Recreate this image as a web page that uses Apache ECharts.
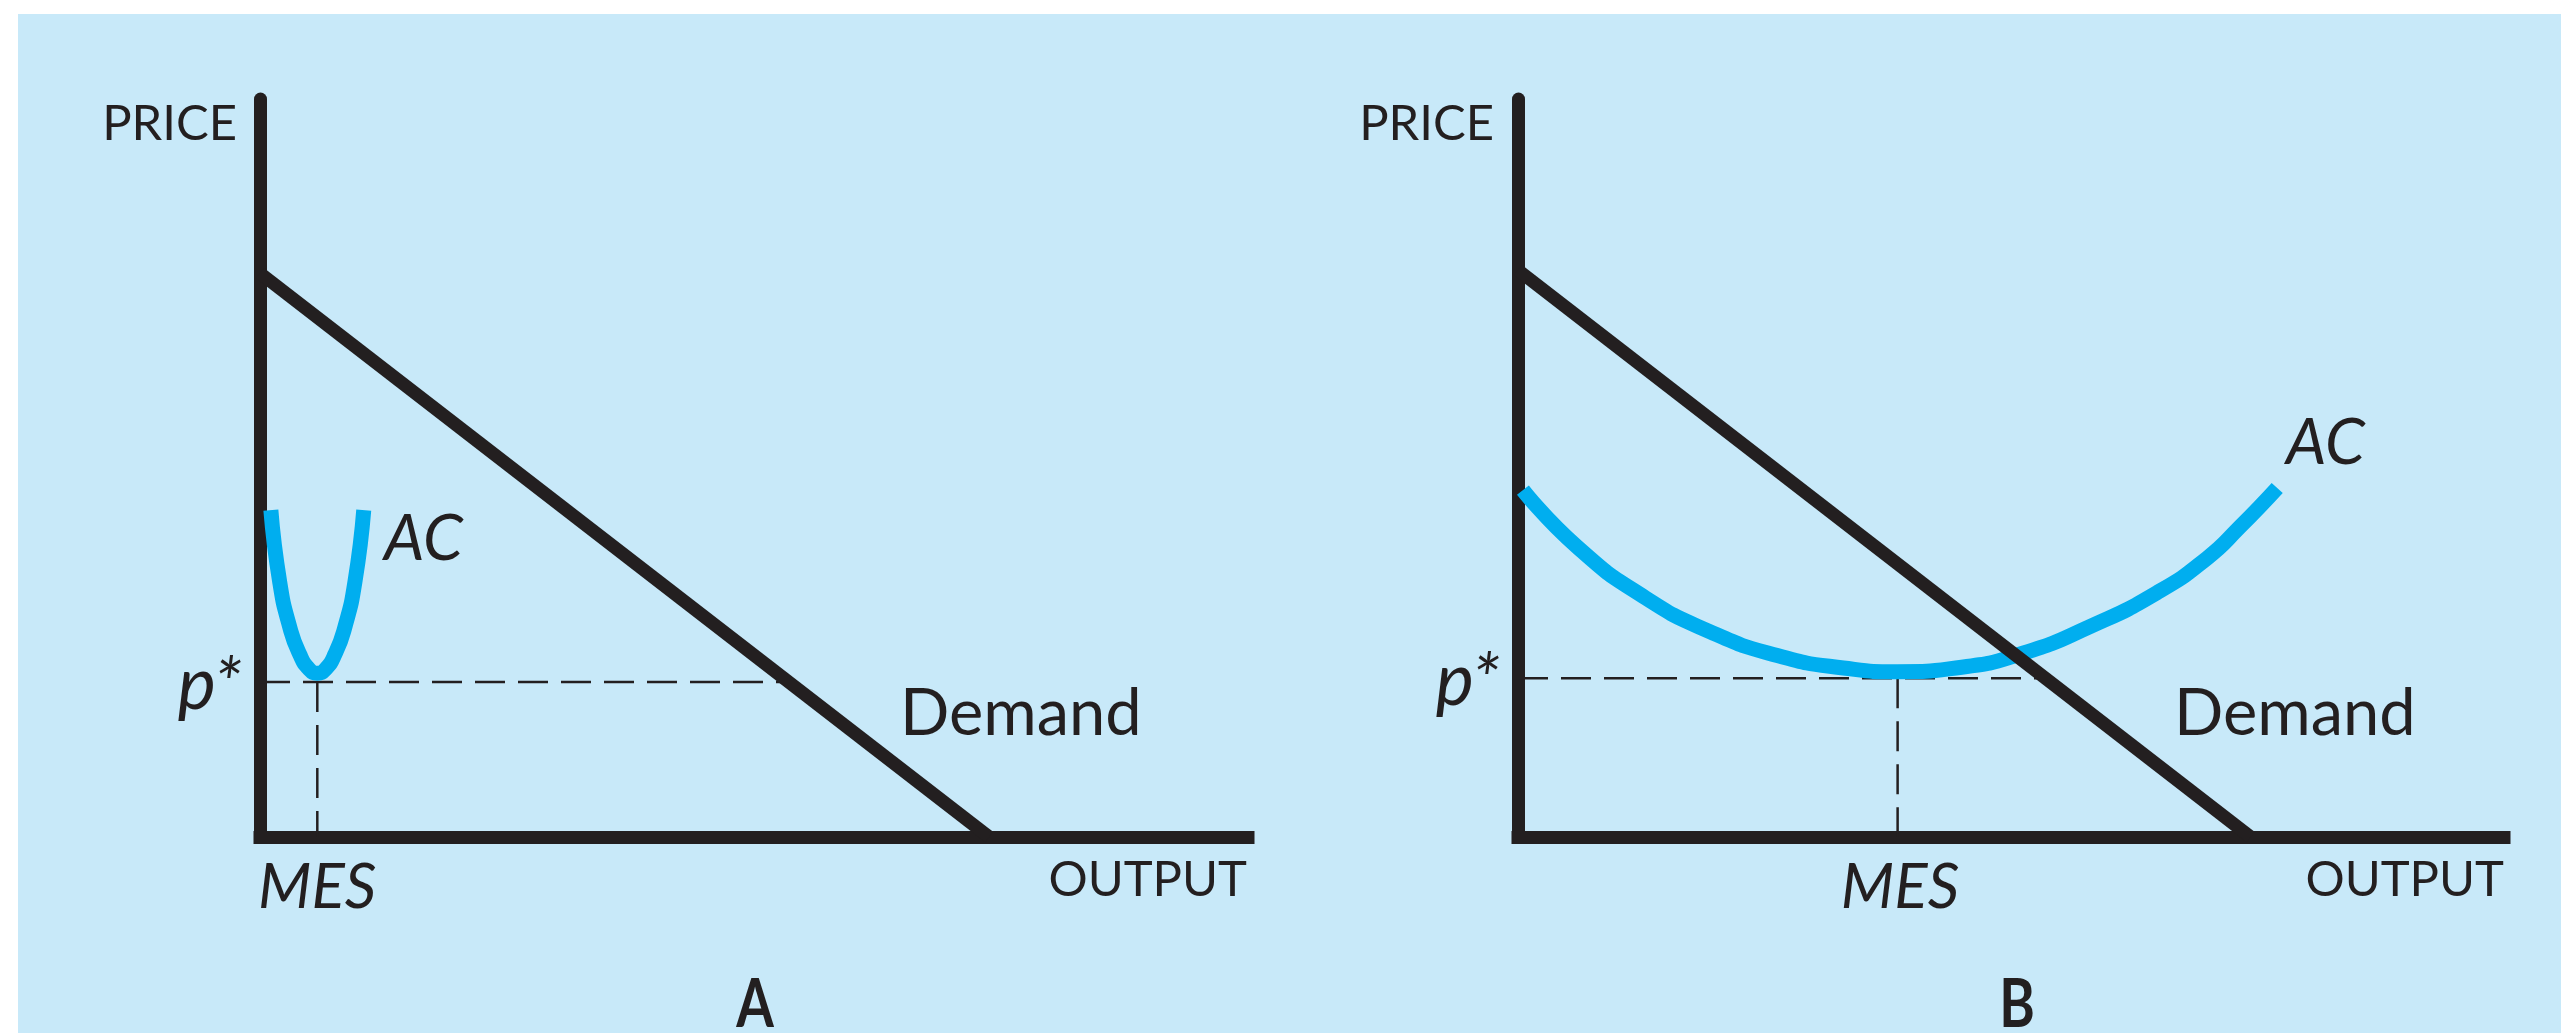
<!DOCTYPE html>
<html>
<head>
<meta charset="utf-8">
<script src="https://cdn.jsdelivr.net/npm/echarts@6/dist/echarts.min.js"></script>
<style>
html,body{margin:0;padding:0;background:#fff;}
#chart{width:2561px;height:1033px;}
</style>
</head>
<body>
<div id="chart"></div>
<script>
// panel A: small MES
let demandA = [[0, 76.4], [73.8, 0]]
let acA = [[1.1, 44.3], [2.0, 34.5], [3.0, 28.5], [4.0, 24.8], [5.0, 22.7], [5.8, 22.2], [6.6, 22.7], [7.6, 24.8], [8.6, 28.5], [9.6, 34.5], [10.5, 44.3]]
let pStarA = 21.0
let mesA = 5.8

// panel B: large MES
let demandB = [[0, 76.8], [74.3, 0]]
let acB = [[0.5, 47.0], [6.0, 39.3], [12.7, 32.6], [19.5, 27.8], [26.3, 24.6], [33.0, 22.9], [38.5, 22.4], [45.0, 23.0], [51.2, 24.9], [58.0, 28.5], [64.8, 33.1], [69.9, 37.8], [73.2, 42.0], [77.0, 47.3]]
let pStarB = 21.5
let mesB = 38.5

const INK = "#231f20"
const CYAN = "#00aeef"
const FONT = "Lato"

let chart = echarts.init(document.getElementById("chart"), null, {renderer: "canvas"})

/** x where the demand line reaches price p */
function demandAt(demand, p){
    let [x0, y0] = demand[0], [x1, y1] = demand[1]
    return x0 + (p - y0) * (x1 - x0) / (y1 - y0)
}

function axisPair(idx){
    let hidden = {axisTick: {show: false}, axisLabel: {show: false}, splitLine: {show: false}}
    return {
        x: Object.assign({type: "value", gridIndex: idx, min: 0, max: 100,
            axisLine: {show: true, onZero: false, lineStyle: {color: INK, width: 13, cap: "square"}}}, hidden),
        y: Object.assign({type: "value", gridIndex: idx, min: 0, max: 100,
            axisLine: {show: true, onZero: false, lineStyle: {color: INK, width: 13}}}, hidden)
    }
}

function panelSeries(idx, demand, ac, pStar, mes){
    let base = {type: "line", xAxisIndex: idx, yAxisIndex: idx, symbol: "none", silent: true}
    let dash = {color: INK, width: 2.5, type: [30, 13]}
    return [
        Object.assign({}, base, {data: [[0, pStar], [demandAt(demand, pStar), pStar]], lineStyle: dash, z: 2}),
        Object.assign({}, base, {data: [[mes, pStar], [mes, 0]], lineStyle: dash, z: 2}),
        Object.assign({}, base, {data: ac, smooth: 0.55, lineStyle: {color: CYAN, width: 15}, z: 3}),
        Object.assign({}, base, {data: demand, lineStyle: {color: INK, width: 13}, z: 4})
    ]
}

function label(text, x, y, opt){
    return {
        type: "text", x: x, y: y, silent: true, z: 10,
        style: Object.assign({text: text, fill: INK, fontFamily: FONT, fontSize: 49,
            align: "left", verticalAlign: "middle"}, opt || {})
    }
}

function panelTitle(text, x){
    let t = label(text, x, 1006, {fontSize: 66, fontWeight: "bold", align: "center"})
    t.scaleX = 0.82
    return t
}

let axA = axisPair(0), axB = axisPair(1)

let option = {
    animation: false,
    backgroundColor: "#fff",
    grid: [
        {left: 260, top: 99, width: 988, height: 738},
        {left: 1518, top: 99, width: 986, height: 738}
    ],
    xAxis: [axA.x, axB.x],
    yAxis: [axA.y, axB.y],
    series: panelSeries(0, demandA, acA, pStarA, mesA).concat(panelSeries(1, demandB, acB, pStarB, mesB)),
    graphic: [
        {type: "rect", z: -10, silent: true, shape: {x: 18, y: 14, width: 2561, height: 1033}, style: {fill: "#c8e9f9"}},

        label("PRICE", 237, 124, {align: "right"}),
        label("OUTPUT", 1247, 880, {align: "right"}),
        label("MES", 258, 888, {fontSize: 62, fontStyle: "italic"}),
        label("p*", 242, 686, {fontSize: 72, fontStyle: "italic", align: "right"}),
        label("AC", 384, 539, {fontSize: 64, fontStyle: "italic"}),
        label("Demand", 900, 714, {fontSize: 65}),
        panelTitle("A", 755),

        label("PRICE", 1494, 124, {align: "right"}),
        label("OUTPUT", 2504, 880, {align: "right"}),
        label("MES", 1900, 888, {fontSize: 62, fontStyle: "italic", align: "center"}),
        label("p*", 1500, 682, {fontSize: 72, fontStyle: "italic", align: "right"}),
        label("AC", 2286, 443, {fontSize: 64, fontStyle: "italic"}),
        label("Demand", 2174, 714, {fontSize: 65}),
        panelTitle("B", 2017)
    ]
}

chart.setOption(option)
</script>
</body>
</html>
